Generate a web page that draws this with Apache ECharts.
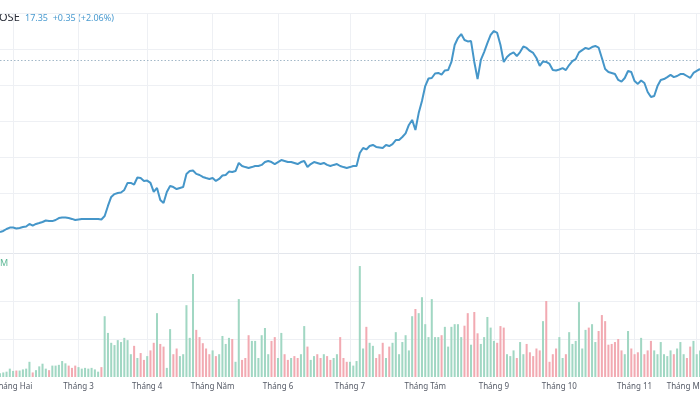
<!DOCTYPE html>
<html>
<head>
<meta charset="utf-8">
<script src="https://cdn.jsdelivr.net/npm/echarts@6/dist/echarts.min.js"></script>
<style>html,body{margin:0;padding:0;background:#fff;}#c{width:700px;height:394px;}</style>
</head>
<body>
<div id="c"></div>
<script>
// Daily close prices
const prices = [
7.83,7.89,8.00,8.08,8.08,8.03,8.06,8.11,8.14,8.28,8.19,8.28,8.33,8.39,8.47,8.44,8.44,8.50,8.61,8.64,8.64,8.61,8.56,8.50,8.53,8.56,8.56,8.56,8.56,8.56,8.56,8.53,
8.72,9.28,9.78,9.94,10.00,10.03,10.17,10.56,10.56,10.47,10.86,10.83,10.67,10.69,10.56,10.06,10.28,9.61,9.44,10.06,10.39,10.33,10.22,10.28,10.33,11.06,11.22,11.25,11.06,11.00,10.89,10.83,
10.78,10.83,10.67,10.78,10.97,11.00,11.19,11.17,11.22,11.67,11.50,11.44,11.39,11.44,11.50,11.50,11.56,11.72,11.78,11.72,11.61,11.72,11.83,11.78,11.72,11.72,11.67,11.61,11.72,11.78,11.44,11.61,
11.72,11.67,11.61,11.67,11.56,11.50,11.56,11.61,11.50,11.44,11.39,11.44,11.50,11.50,12.22,12.50,12.42,12.61,12.67,12.56,12.53,12.50,12.67,12.61,12.72,12.94,12.94,13.11,13.31,13.78,14.06,13.50,
14.44,15.11,15.94,16.36,16.39,16.64,16.67,16.58,16.81,16.83,17.28,18.22,18.61,18.83,18.50,18.42,18.44,17.28,16.33,17.39,17.83,18.33,18.78,19.00,18.89,18.22,17.28,17.56,17.72,17.81,17.61,17.83,
18.14,18.06,17.89,17.78,17.50,17.06,17.31,17.28,17.17,16.83,16.81,16.86,16.94,16.83,17.11,17.33,17.44,17.81,17.94,18.06,18.00,18.11,18.17,18.08,17.50,16.89,16.72,16.67,16.61,16.28,16.19,16.39,
16.78,16.72,16.22,16.06,16.25,16.11,15.61,15.33,15.39,15.94,16.28,16.33,16.44,16.56,16.44,16.50,16.61,16.61,16.50,16.39,16.67,16.78,16.89
];
// Daily volume (millions)
const volumes = [
0.10,0.12,0.14,0.22,0.16,0.17,0.17,0.20,0.22,0.40,0.12,0.18,0.28,0.35,0.22,0.18,0.30,0.30,0.32,0.42,0.36,0.30,0.24,0.30,0.26,0.22,0.24,0.22,0.24,0.20,0.14,0.26,
1.60,1.16,0.90,0.84,0.97,0.92,1.03,0.97,0.60,0.82,0.50,0.63,0.45,0.55,0.70,0.90,1.68,0.87,0.80,0.24,1.26,0.60,0.75,0.55,0.60,1.89,1.03,2.71,1.24,1.05,0.89,0.75,
0.60,0.70,0.55,0.60,1.08,0.87,1.03,1.00,0.40,2.05,0.45,0.50,1.10,0.95,0.95,0.50,1.10,1.29,0.60,0.95,1.05,0.50,1.16,0.60,0.45,0.50,0.55,0.50,0.60,1.34,0.80,0.45,
0.55,0.60,0.50,0.60,0.55,0.45,0.50,0.60,1.05,0.50,0.40,0.40,0.30,0.42,2.92,0.75,1.32,0.90,0.82,0.50,0.60,0.90,0.50,0.80,0.90,1.18,0.60,0.92,1.10,0.70,1.60,1.79,
1.68,2.10,1.39,1.05,2.05,1.05,1.05,1.10,1.32,0.80,1.32,1.39,1.39,1.05,1.35,1.68,0.85,1.71,1.15,0.87,1.05,1.58,1.30,0.95,0.90,1.34,1.30,0.60,0.55,0.70,0.50,0.92,
0.60,0.87,0.65,0.55,0.75,0.70,1.47,2.00,0.40,0.60,0.75,1.05,0.50,0.60,1.18,0.87,0.95,1.97,0.75,1.24,1.30,1.39,0.92,1.21,1.63,1.47,0.85,0.87,0.92,1.00,0.70,0.60,
1.21,0.75,0.60,0.65,1.03,0.60,0.70,0.95,0.70,0.60,0.92,0.60,0.55,0.70,0.60,0.75,0.92,0.60,0.50,0.80,0.95,0.60,0.70
];
// Month tick labels and the trading-day index where each month starts
const monthLabels = ['Tháng Hai','Tháng 3','Tháng 4','Tháng Năm','Tháng 6','Tháng 7','Tháng Tám','Tháng 9','Tháng 10','Tháng 11','Tháng Mười Hai'];
const monthStart = [4,24,45,65,85,107,130,151,171,194,213];
const lastPrice = 17.35;
const headerTicker = 'OSE';
const headerQuote = '17.35  +0.35 (+2.06%)';

const days = prices.map((_, i) => String(i));
const isMonth = (idx) => monthStart.indexOf(idx) !== -1;
const gridColor = '#eef0f4';
const upColor = '#a1d7c3', downColor = '#f2aab2';

const volData = volumes.map((v, i) => ({
  value: v,
  itemStyle: { color: (i === 0 || prices[i] >= prices[i - 1]) ? upColor : downColor }
}));

const chart = echarts.init(document.getElementById('c'), null, { renderer: 'canvas' });
chart.setOption({
  animation: false,
  backgroundColor: '#ffffff',
  grid: [
    { left: 0, right: 0, top: 13, height: 252, containLabel: false, outerBoundsMode: 'none' },
    { left: 0, right: 0, top: 263, height: 114, containLabel: false, outerBoundsMode: 'none' }
  ],
  xAxis: [
    {
      type: 'category', gridIndex: 0, data: days, boundaryGap: false,
      axisLine: { show: false }, axisTick: { show: false }, axisLabel: { show: false },
      splitLine: { show: true, interval: (i) => isMonth(i), lineStyle: { color: gridColor, width: 1 } }
    },
    {
      type: 'category', gridIndex: 1, data: days, boundaryGap: false,
      axisLine: { show: false }, axisTick: { show: false },
      splitLine: { show: true, interval: (i) => isMonth(i), lineStyle: { color: gridColor, width: 1 } },
      axisLabel: {
        show: true, interval: (i) => isMonth(i), margin: 6, hideOverlap: false,
        showMinLabel: true, showMaxLabel: true,
        color: '#555a66', fontSize: 8, fontFamily: 'Noto Sans, sans-serif',
        formatter: (v, i) => { const k = monthStart.indexOf(Number(v)); return k >= 0 ? monthLabels[k] : ''; }
      }
    }
  ],
  yAxis: [
    {
      type: 'value', gridIndex: 0, min: 6, max: 20, interval: 2,
      axisLine: { show: false }, axisTick: { show: false }, axisLabel: { show: false },
      splitLine: { show: true, showMinLine: false, lineStyle: { color: gridColor, width: 1 } }
    },
    {
      type: 'value', gridIndex: 1, min: 0, max: 3, interval: 1,
      axisLine: { show: false }, axisTick: { show: false }, axisLabel: { show: false },
      splitLine: { show: true, showMinLine: false, showMaxLine: false, lineStyle: { color: gridColor, width: 1 } }
    }
  ],
  series: [
    {
      type: 'bar', xAxisIndex: 1, yAxisIndex: 1, data: volData,
      barWidth: '62%', silent: true
    },
    {
      type: 'line', xAxisIndex: 0, yAxisIndex: 0, data: prices,
      showSymbol: false, smooth: false, z: 5,
      lineStyle: { color: '#4596c9', width: 2 },
      markLine: {
        silent: true, symbol: 'none', label: { show: false },
        lineStyle: { color: '#a3b8c8', type: [1.5, 2], width: 1 },
        data: [{ yAxis: lastPrice }]
      }
    }
  ],
  graphic: [
    { type: 'line', shape: { x1: 0, y1: 253.5, x2: 700, y2: 253.5 }, style: { stroke: '#e3e6ec', lineWidth: 1 }, silent: true },
    { type: 'text', left: -1, top: 12, style: { text: headerTicker, fill: '#2a2e39', font: '11px "Noto Sans", sans-serif' } },
    { type: 'text', left: 25, top: 13.5, style: { text: headerQuote, fill: '#4a9bd0', font: '9px "Noto Sans", sans-serif' } },
    { type: 'text', left: 0, top: 259, style: { text: 'M', fill: '#5fb896', font: '9px "Noto Sans", sans-serif' } }
  ]
});
</script>
</body>
</html>
